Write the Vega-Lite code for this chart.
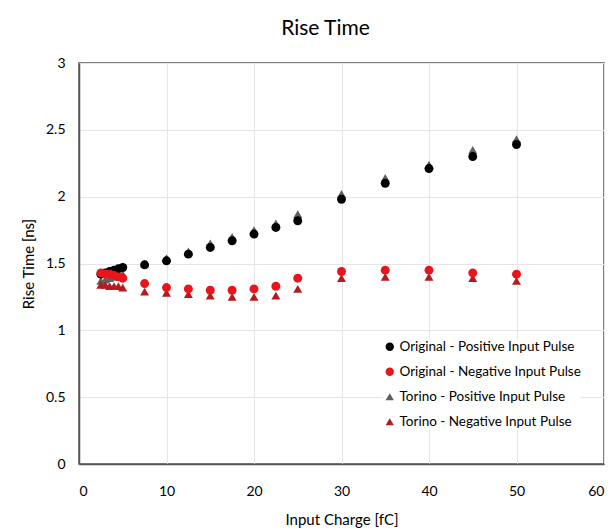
{
  "$schema": "https://vega.github.io/schema/vega-lite/v6.json",
  "autosize": "none",
  "width": 525,
  "height": 401,
  "padding": {"left": 79, "top": 63, "right": 10, "bottom": 67},
  "background": "white",
  "title": {"text": "Rise Time", "font": "Lato", "fontSize": 21, "fontWeight": "normal", "color": "#000000", "offset": 17, "dx": -16},
  "config": {
    "view": {"stroke": "#555555", "strokeWidth": 1.5},
    "axis": {"labelFont": "Lato", "titleFont": "Lato", "labelFontSize": 14, "titleFontSize": 15, "titleFontWeight": "normal", "labelColor": "#000", "titleColor": "#000", "gridColor": "#e6e6e6", "ticks": false, "domainColor": "#555555", "domainWidth": 1.5}
  },
  "data": {"values": [
    {"s": "Torino - Positive Input Pulse", "q": 2.5, "t": 1.37},
    {"s": "Torino - Positive Input Pulse", "q": 3, "t": 1.38},
    {"s": "Torino - Positive Input Pulse", "q": 3.5, "t": 1.39},
    {"s": "Torino - Positive Input Pulse", "q": 4, "t": 1.40},
    {"s": "Torino - Positive Input Pulse", "q": 4.5, "t": 1.41},
    {"s": "Torino - Positive Input Pulse", "q": 5, "t": 1.42},
    {"s": "Torino - Positive Input Pulse", "q": 7.5, "t": 1.50},
    {"s": "Torino - Positive Input Pulse", "q": 10, "t": 1.54},
    {"s": "Torino - Positive Input Pulse", "q": 12.5, "t": 1.59},
    {"s": "Torino - Positive Input Pulse", "q": 15, "t": 1.65},
    {"s": "Torino - Positive Input Pulse", "q": 17.5, "t": 1.70},
    {"s": "Torino - Positive Input Pulse", "q": 20, "t": 1.75},
    {"s": "Torino - Positive Input Pulse", "q": 22.5, "t": 1.80},
    {"s": "Torino - Positive Input Pulse", "q": 25, "t": 1.87},
    {"s": "Torino - Positive Input Pulse", "q": 30, "t": 2.02},
    {"s": "Torino - Positive Input Pulse", "q": 35, "t": 2.14},
    {"s": "Torino - Positive Input Pulse", "q": 40, "t": 2.24},
    {"s": "Torino - Positive Input Pulse", "q": 45, "t": 2.35},
    {"s": "Torino - Positive Input Pulse", "q": 50, "t": 2.43},
    {"s": "Torino - Negative Input Pulse", "q": 2.5, "t": 1.34},
    {"s": "Torino - Negative Input Pulse", "q": 3, "t": 1.34},
    {"s": "Torino - Negative Input Pulse", "q": 3.5, "t": 1.33},
    {"s": "Torino - Negative Input Pulse", "q": 4, "t": 1.33},
    {"s": "Torino - Negative Input Pulse", "q": 4.5, "t": 1.33},
    {"s": "Torino - Negative Input Pulse", "q": 5, "t": 1.32},
    {"s": "Torino - Negative Input Pulse", "q": 7.5, "t": 1.29},
    {"s": "Torino - Negative Input Pulse", "q": 10, "t": 1.28},
    {"s": "Torino - Negative Input Pulse", "q": 12.5, "t": 1.27},
    {"s": "Torino - Negative Input Pulse", "q": 15, "t": 1.26},
    {"s": "Torino - Negative Input Pulse", "q": 17.5, "t": 1.25},
    {"s": "Torino - Negative Input Pulse", "q": 20, "t": 1.25},
    {"s": "Torino - Negative Input Pulse", "q": 22.5, "t": 1.26},
    {"s": "Torino - Negative Input Pulse", "q": 25, "t": 1.31},
    {"s": "Torino - Negative Input Pulse", "q": 30, "t": 1.39},
    {"s": "Torino - Negative Input Pulse", "q": 35, "t": 1.40},
    {"s": "Torino - Negative Input Pulse", "q": 40, "t": 1.40},
    {"s": "Torino - Negative Input Pulse", "q": 45, "t": 1.39},
    {"s": "Torino - Negative Input Pulse", "q": 50, "t": 1.37},
    {"s": "Original - Positive Input Pulse", "q": 2.5, "t": 1.42},
    {"s": "Original - Positive Input Pulse", "q": 3, "t": 1.43},
    {"s": "Original - Positive Input Pulse", "q": 3.5, "t": 1.44},
    {"s": "Original - Positive Input Pulse", "q": 4, "t": 1.45},
    {"s": "Original - Positive Input Pulse", "q": 4.5, "t": 1.46},
    {"s": "Original - Positive Input Pulse", "q": 5, "t": 1.47},
    {"s": "Original - Positive Input Pulse", "q": 7.5, "t": 1.49},
    {"s": "Original - Positive Input Pulse", "q": 10, "t": 1.52},
    {"s": "Original - Positive Input Pulse", "q": 12.5, "t": 1.57},
    {"s": "Original - Positive Input Pulse", "q": 15, "t": 1.62},
    {"s": "Original - Positive Input Pulse", "q": 17.5, "t": 1.67},
    {"s": "Original - Positive Input Pulse", "q": 20, "t": 1.72},
    {"s": "Original - Positive Input Pulse", "q": 22.5, "t": 1.77},
    {"s": "Original - Positive Input Pulse", "q": 25, "t": 1.82},
    {"s": "Original - Positive Input Pulse", "q": 30, "t": 1.98},
    {"s": "Original - Positive Input Pulse", "q": 35, "t": 2.10},
    {"s": "Original - Positive Input Pulse", "q": 40, "t": 2.21},
    {"s": "Original - Positive Input Pulse", "q": 45, "t": 2.30},
    {"s": "Original - Positive Input Pulse", "q": 50, "t": 2.39},
    {"s": "Original - Negative Input Pulse", "q": 2.5, "t": 1.43},
    {"s": "Original - Negative Input Pulse", "q": 3, "t": 1.42},
    {"s": "Original - Negative Input Pulse", "q": 3.5, "t": 1.42},
    {"s": "Original - Negative Input Pulse", "q": 4, "t": 1.41},
    {"s": "Original - Negative Input Pulse", "q": 4.5, "t": 1.40},
    {"s": "Original - Negative Input Pulse", "q": 5, "t": 1.39},
    {"s": "Original - Negative Input Pulse", "q": 7.5, "t": 1.35},
    {"s": "Original - Negative Input Pulse", "q": 10, "t": 1.32},
    {"s": "Original - Negative Input Pulse", "q": 12.5, "t": 1.31},
    {"s": "Original - Negative Input Pulse", "q": 15, "t": 1.30},
    {"s": "Original - Negative Input Pulse", "q": 17.5, "t": 1.30},
    {"s": "Original - Negative Input Pulse", "q": 20, "t": 1.31},
    {"s": "Original - Negative Input Pulse", "q": 22.5, "t": 1.33},
    {"s": "Original - Negative Input Pulse", "q": 25, "t": 1.39},
    {"s": "Original - Negative Input Pulse", "q": 30, "t": 1.44},
    {"s": "Original - Negative Input Pulse", "q": 35, "t": 1.45},
    {"s": "Original - Negative Input Pulse", "q": 40, "t": 1.45},
    {"s": "Original - Negative Input Pulse", "q": 45, "t": 1.43},
    {"s": "Original - Negative Input Pulse", "q": 50, "t": 1.42}
  ]},
  "mark": {"type": "point", "filled": true, "opacity": 1, "size": 80},
  "encoding": {
    "x": {"field": "q", "type": "quantitative", "scale": {"domain": [0, 60], "nice": false, "zero": true}, "axis": {"title": "Input Charge [fC]", "values": [0, 10, 20, 30, 40, 50, 60], "format": "d", "labelPadding": 20, "titlePadding": 14}},
    "y": {"field": "t", "type": "quantitative", "scale": {"domain": [0, 3], "nice": false}, "axis": {"title": "Rise Time [ns]", "values": [0, 0.5, 1, 1.5, 2, 2.5, 3], "format": "~g", "labelPadding": 14, "titlePadding": 9}},
    "color": {"field": "s", "type": "nominal", "scale": {"domain": ["Original - Positive Input Pulse", "Original - Negative Input Pulse", "Torino - Positive Input Pulse", "Torino - Negative Input Pulse"], "range": ["#000000", "#e8161c", "#5f5f5f", "#b31b1f"]},
      "legend": {"title": null, "orient": "none", "legendX": 304, "legendY": 277, "labelFont": "Lato", "labelFontSize": 13.5, "labelColor": "#000", "labelLimit": 0, "rowPadding": 10, "symbolSize": 70, "labelOffset": 3, "fillColor": "white"}},
    "shape": {"field": "s", "type": "nominal", "scale": {"domain": ["Original - Positive Input Pulse", "Original - Negative Input Pulse", "Torino - Positive Input Pulse", "Torino - Negative Input Pulse"], "range": ["circle", "circle", "triangle-up", "triangle-up"]}}
  }
}
